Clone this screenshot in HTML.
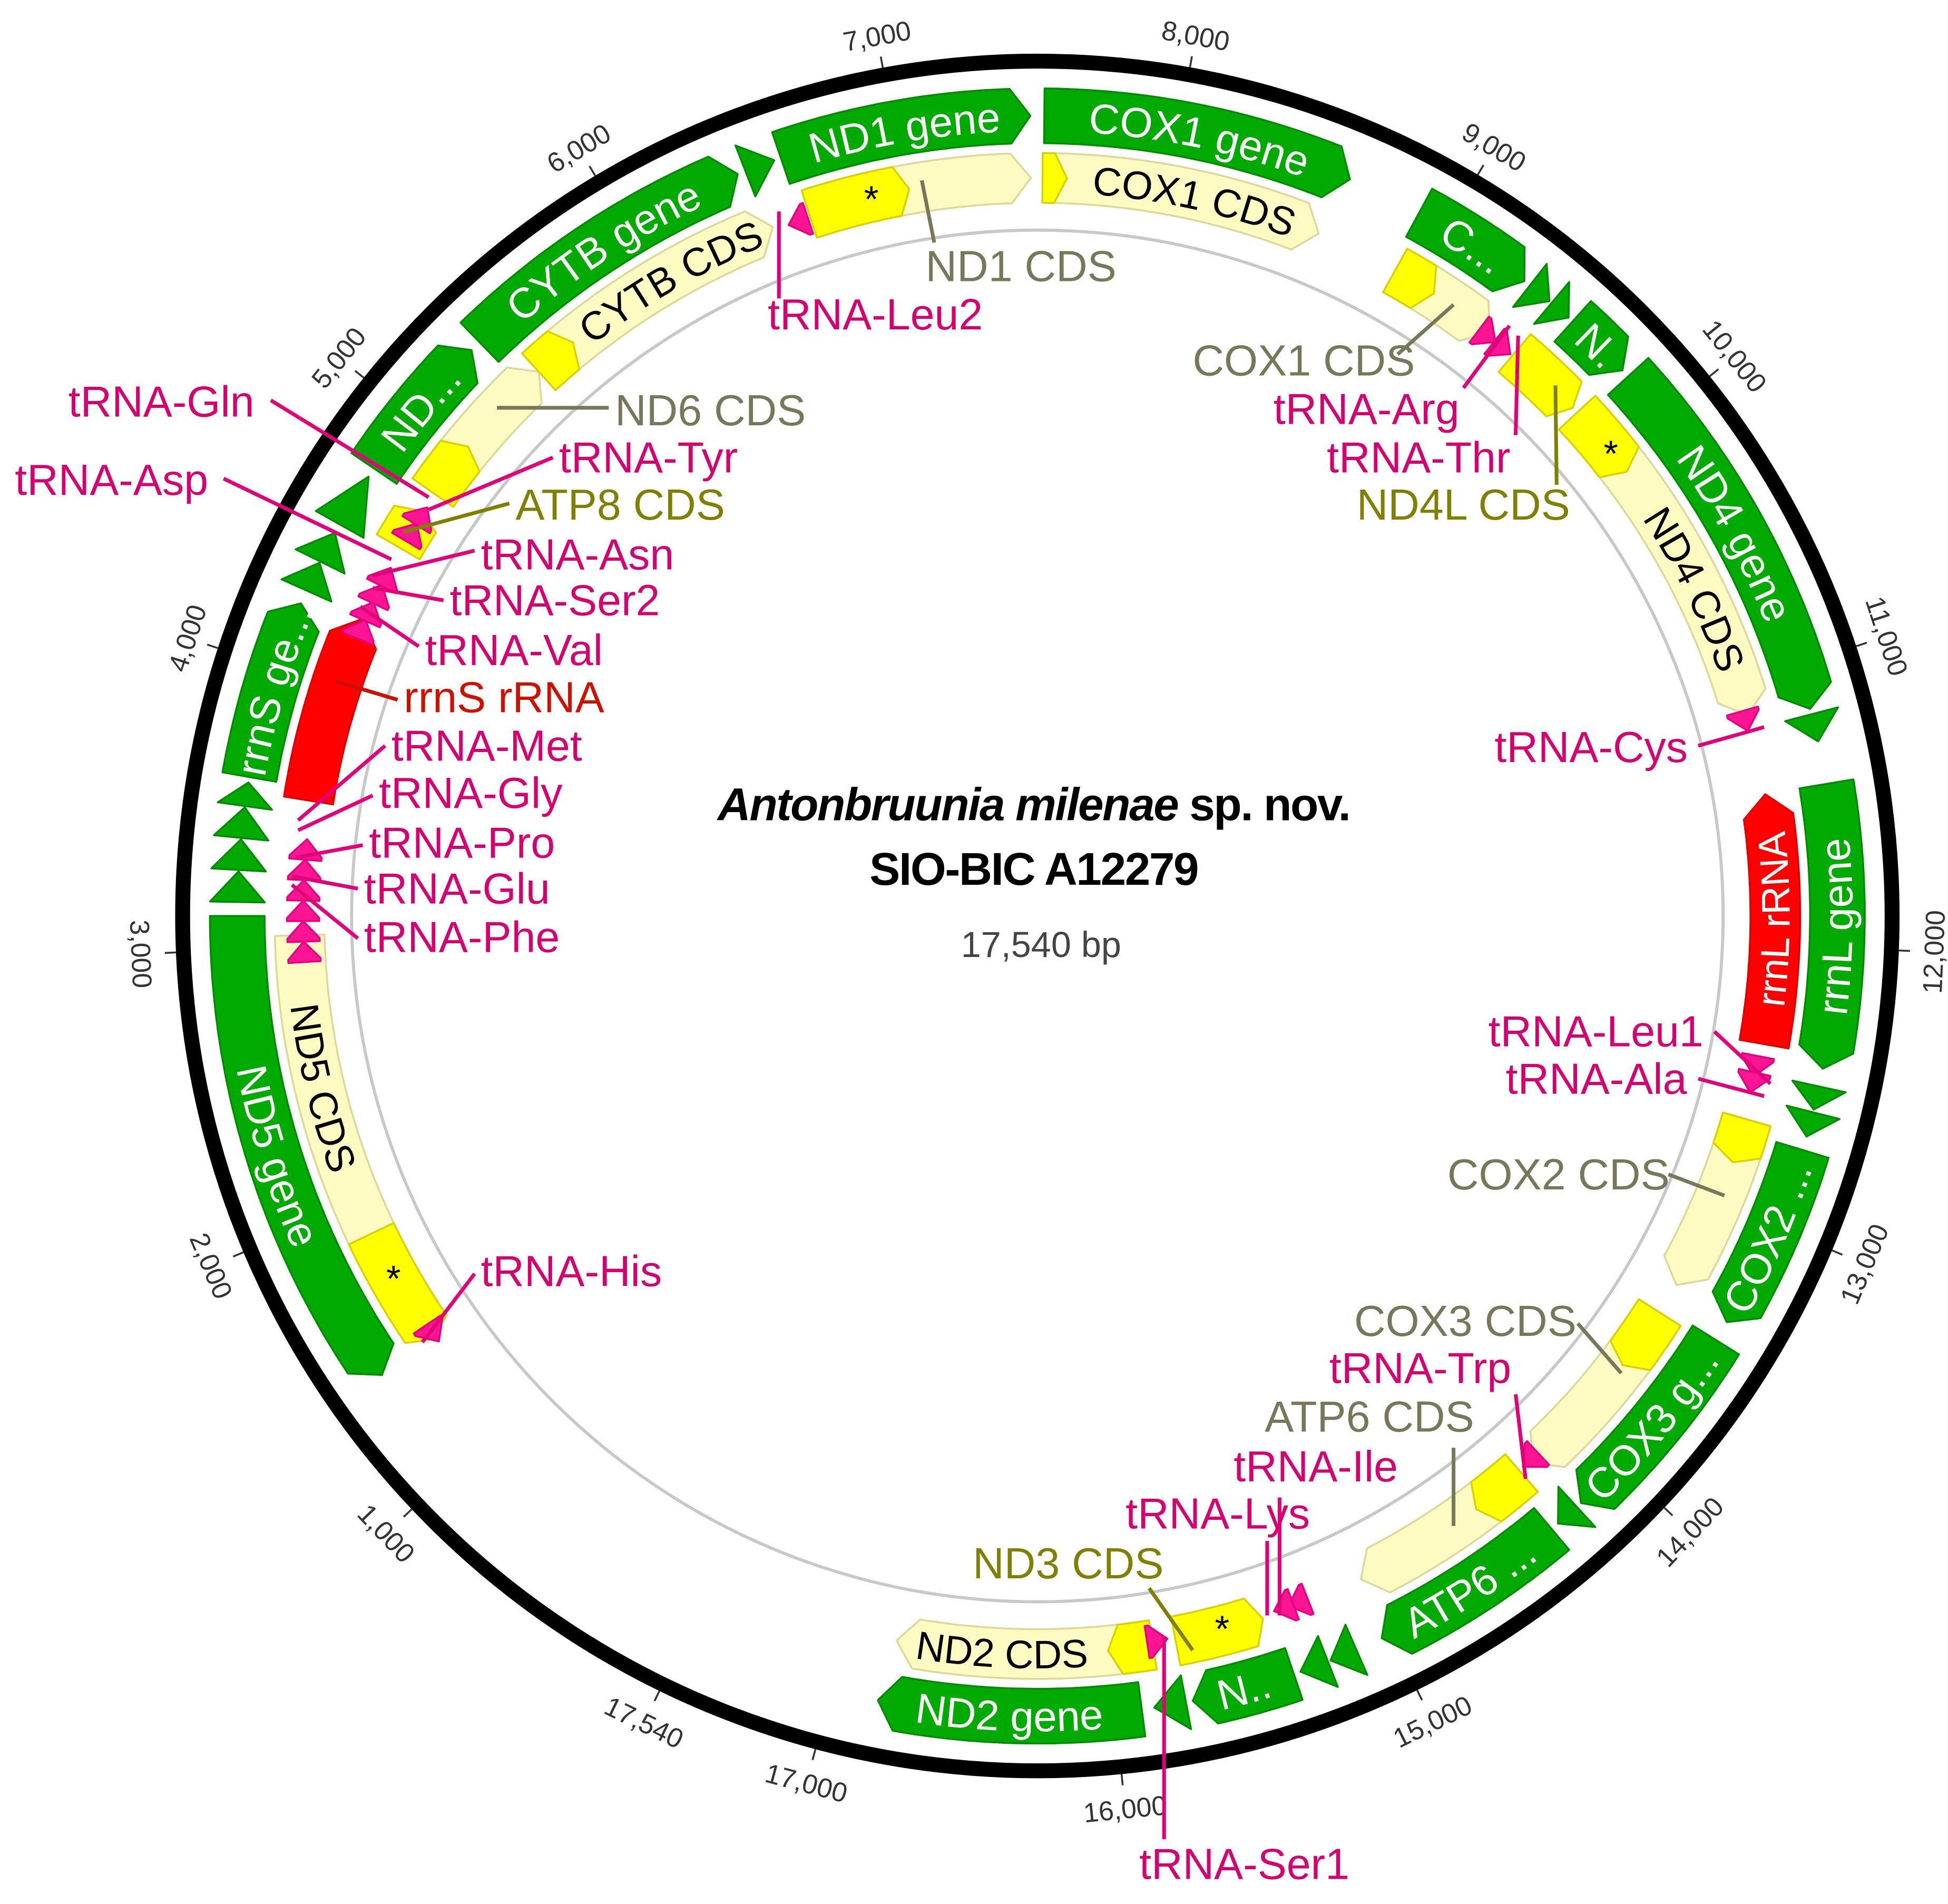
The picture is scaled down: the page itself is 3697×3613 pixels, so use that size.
<!DOCTYPE html>
<html><head><meta charset="utf-8"><style>
html,body{margin:0;padding:0;background:#fff;}
svg{display:block;}
text{font-family:"Liberation Sans",sans-serif;}
</style></head><body>
<svg id="s" xmlns="http://www.w3.org/2000/svg" width="3697" height="3613" viewBox="0 0 1568 1532">
<rect width="1568" height="1532" fill="#fff"/>
<g id="g"></g>
<g font-family="Liberation Sans, sans-serif" text-anchor="middle">
<text x="832" y="660" font-size="37" font-weight="bold" letter-spacing="-1"><tspan font-style="italic">Antonbruunia milenae</tspan> sp. nov.</text>
<text x="832" y="712" font-size="37" font-weight="bold" letter-spacing="-1">SIO-BIC A12279</text>
<text x="838" y="770" font-size="29" fill="#444">17,540 bp</text>
</g>
</svg>
<script>
const NS="http://www.w3.org/2000/svg";const G=document.getElementById('g');
const cx=835,cy=737;
function P(a,r){const t=a*Math.PI/180;return [cx+r*Math.sin(t),cy-r*Math.cos(t)];}
function el(tag,at,parent){const e=document.createElementNS(NS,tag);for(const k in at)e.setAttribute(k,at[k]);(parent||G).appendChild(e);return e;}
function arcPts(a,b,r){const n=Math.max(2,Math.ceil(Math.abs(b-a)*2));const out=[];for(let i=0;i<=n;i++){out.push(P(a+(b-a)*i/n,r));}return out;}
function shape(a1,a2,r1,r2,dir,fill,stroke,head){
 head=head||16;const rm=(r1+r2)/2;let h=head/rm*180/Math.PI;const span=a2-a1;if(h>span)h=span;
 let pts=[];
 if(dir>0){pts=pts.concat(arcPts(a1,a2-h,r2));pts.push(P(a2,rm));pts=pts.concat(arcPts(a2-h,a1,r1));}
 else if(dir<0){pts.push(P(a1,rm));pts=pts.concat(arcPts(a1+h,a2,r2));pts=pts.concat(arcPts(a2,a1+h,r1));}
 else{pts=pts.concat(arcPts(a1,a2,r2));pts=pts.concat(arcPts(a2,a1,r1));}
 el('polygon',{points:pts.map(p=>p[0].toFixed(1)+','+p[1].toFixed(1)).join(' '),fill:fill,stroke:stroke,'stroke-width':1.5,'stroke-linejoin':'round'});
}
let pid=0;
function arcLabel(a1,a2,r1,r2,txt,fill,fs){
 const mid=(a1+a2)/2;let m=((mid%360)+360)%360;const flip=(m>80&&m<280);
 const rm=(r1+r2)/2;const r=flip?rm+0.36*fs:rm-0.36*fs;
 const s=flip?P(a2,r):P(a1,r),e=flip?P(a1,r):P(a2,r);
 const id='p'+(pid++);
 el('path',{id:id,d:`M${s[0]},${s[1]} A${r},${r} 0 0 ${flip?0:1} ${e[0]},${e[1]}`,fill:'none'});
 const t=el('text',{'font-size':fs,fill:fill,'text-anchor':'middle'});
 const tp=el('textPath',{href:'#'+id,startOffset:'50%'},t);tp.textContent=txt;
}
el('circle',{cx:cx,cy:cy,r:688,fill:'none',stroke:'#000','stroke-width':12});
el('circle',{cx:cx,cy:cy,r:552,fill:'none',stroke:'#c8c8c8','stroke-width':2.5});
const T0=206,K=360/17540;
function tick(bp,lab){const a=T0+bp*K;const p1=P(a,694),p2=P(a,703);el('line',{x1:p1[0],y1:p1[1],x2:p2[0],y2:p2[1],stroke:'#333','stroke-width':1.5});
 let m=((a%360)+360)%360;const flip=(m>90&&m<270);const p=P(a,flip?724:718);const rot=flip?m-180:m;
 const t=el('text',{x:p[0],y:p[1],'font-size':22,fill:'#333','text-anchor':'middle','dominant-baseline':'middle',transform:`rotate(${rot} ${p[0]} ${p[1]})`});t.textContent=lab;}
tick(0,'17,540');for(let i=1;i<=17;i++)tick(i*1000,i+',000');
const GR='#00aa00',GRs='#008a00',LY='#fdfbc2',LYs='#dcd89a',BY='#ffff00',BYs='#d8d000',RD='#ff0000',PK='#ff1493';
const gR1=622,gR2=666,cR1=574,cR2=614;
const genes=[[235,270,-1,'ND5 gene'],[271,273.2,1,''],[273.3,275.5,1,''],[275.6,277.8,1,''],[277.9,279.6,1,''],[280,293,1,'rrnS ge...'],
[294,296.2,1,''],[296.3,298.6,1,''],[299.3,303.3,1,''],[304,315,1,'ND...'],[315.8,338,1,'CYTB gene'],[338.6,340.8,1,''],
[341.3,359.5,1,'ND1 gene'],[0.5,23,1,'COX1 gene'],[28.5,37.5,1,'C...'],[38,39.8,1,''],[40,41.6,1,''],[42,47,1,'N.'],
[47.6,75,1,'ND4 gene'],[75.4,77.4,1,''],[80.5,101,1,'rrnL gene'],[102.3,104,1,''],[104.2,106,1,''],[107,120.5,1,'COX2 ...'],
[122,137.2,1,'COX3 g...'],[137.6,139.4,1,''],[140,154.5,1,'ATP6 ...'],[156.5,158.5,1,''],[158.7,160.8,1,''],[161.3,168.8,1,'N..'],
[169.3,171.6,1,''],[172.5,191.5,1,'ND2 gene']];
for(const g of genes){const sm=g[1]-g[0]<4.1;shape(g[0],g[1],gR1,gR2,g[2],GR,GRs,sm?100:16);if(g[3])arcLabel(g[0],g[1],gR1,gR2,g[3],'#fff',34);}
const cds=[[235,268.5,-1,'ND5 CDS',235,244.5,1],[305,317.5,1,'',305,309.5,0],[317.5,339,1,'CYTB CDS',317.5,321,0],[342,359.5,1,'',342,350,1],
[0.4,22.4,1,'COX1 CDS',0.4,2.3,0],[29,37.8,1,'',29,32.5,0],[47,74.2,1,'ND4 CDS',47,53,1],[106,120,1,'',106,109.5,0],
[122.5,137.8,1,'',122.5,127.5,0],[139,154,1,'',139,143.5,0],[171,191,1,'ND2 CDS',171,174.5,0]];
for(const c of cds){shape(c[0],c[1],cR1,cR2,c[2],LY,LYs,16);
 shape(c[4],c[5],cR1,cR2,c[4]==c[0]&&c[2]<0?-1:1,BY,BYs,10);
 if(c[3])arcLabel(c[5],c[1],cR1,cR2,c[3],'#000',32);
 if(c[6]){const m=(c[4]+c[5])/2;const p=P(m+1,594);const t=el('text',{x:p[0],y:p[1]+12,'font-size':30,'text-anchor':'middle',fill:'#000'});t.textContent='*';}}
shape(300,303.3,cR1,cR2,1,BY,BYs,8);shape(40.3,46.5,cR1,cR2,1,BY,BYs,10);shape(162.2,169.2,cR1,cR2,-1,BY,BYs,10);
{const p=P(165,590);const t=el('text',{x:p[0]-4,y:p[1]+14,'font-size':30,'text-anchor':'middle'});t.textContent='*';}
shape(279,293.7,cR1,cR2,1,RD,'#dd0000',18);shape(80.5,100,cR1,cR2,-1,RD,'#dd0000',18);
arcLabel(80.5,100,cR1,cR2,'rrnL rRNA','#fff',32);
const tr=[[340.2,-1],[38.6,1],[40.1,1],[75.4,1],[102.6,1],[103.9,1],[138.6,1],[160.0,1],[161.2,1],[169.8,-1],[234.6,-1],
[268,1],[269.6,1],[271.2,1],[272.8,1],[274.4,1],[276,1],[293.8,1],[295.3,1],[296.8,1],[298.3,1],[302.3,1],[303.8,1]];
for(const t of tr){if(t[1]>0)shape(t[0]-1.6,t[0],578,604,1,PK,'#e00080',14);else shape(t[0],t[0]+1.6,578,604,-1,PK,'#e00080',14);}
const TL='#d4006f',GY='#77775a',OL='#808000';
const labs=[['ND1 CDS',745,226,GY,752,195,742,145],['tRNA-Leu2',618,265,TL,627,240,627,170],['ND6 CDS',495,342,GY,490,328,400,328],
['tRNA-Gln',55,335,TL,218,322,345,400],['tRNA-Tyr',450,380,TL,445,368,345,410],['ATP8 CDS',415,418,OL,410,405,325,428],
['tRNA-Asp',12,398,TL,180,385,315,450],['tRNA-Asn',387,458,TL,382,443,300,463],['tRNA-Ser2',362,495,TL,357,483,300,473],
['tRNA-Val',342,535,TL,337,520,290,488],['rrnS rRNA',325,573,'#cc1100',320,563,270,548],['tRNA-Met',315,612,TL,310,600,240,660],
['tRNA-Gly',305,650,TL,300,640,240,668],['tRNA-Pro',297,690,TL,292,680,238,690],['tRNA-Glu',293,727,TL,288,715,235,705],
['tRNA-Phe',293,766,TL,288,755,235,712],['tRNA-His',387,1035,TL,382,1025,340,1080],['COX1 CDS',960,302,GY,1125,285,1170,245],
['tRNA-Arg',1025,341,TL,1178,312,1215,262],['tRNA-Thr',1068,380,TL,1220,350,1222,270],['ND4L CDS',1092,418,OL,1253,390,1252,310],
['tRNA-Cys',1203,613,TL,1367,600,1420,585],['tRNA-Leu1',1198,842,TL,1380,830,1425,872],['tRNA-Ala',1212,880,TL,1367,868,1420,882],
['COX2 CDS',1165,957,GY,1343,945,1388,962],['COX3 CDS',1090,1075,GY,1270,1065,1305,1105],['tRNA-Trp',1070,1113,TL,1220,1122,1228,1190],
['ATP6 CDS',1018,1152,GY,1170,1165,1170,1228],['tRNA-Ile',993,1192,TL,1030,1205,1030,1300],['tRNA-Lys',906,1230,TL,1020,1240,1020,1300],
['ND3 CDS',783,1270,OL,925,1278,960,1328],['tRNA-Ser1',917,1512,TL,937,1480,937,1318]];
for(const l of labs){el('line',{x1:l[4],y1:l[5],x2:l[6],y2:l[7],stroke:l[3]==TL?'#e0007a':l[3],'stroke-width':3});
 const t=el('text',{x:l[1],y:l[2],'font-size':35,fill:l[3]});t.textContent=l[0];}
</script>
</body></html>
